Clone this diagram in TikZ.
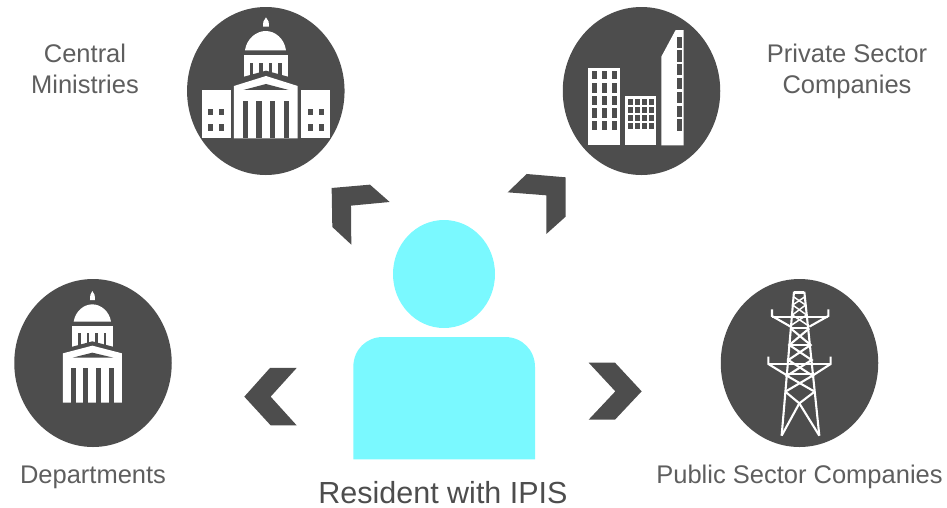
\documentclass[tikz,border=0pt]{standalone}
\usepackage{fontspec}
\setmainfont{Liberation Sans}
\definecolor{dk}{HTML}{4D4D4D}
\definecolor{cy}{HTML}{7AF9FF}
\definecolor{tx}{HTML}{5E5E5E}
\definecolor{txb}{HTML}{4D4D4D}
\tikzset{
 disc/.style={ellipse,fill=dk,draw=none,minimum width=157.5pt,minimum height=168pt,inner sep=0pt},
 chev/.style={fill=dk,draw=none},
 lab/.style={text=tx,font=\fontsize{25.5}{31}\selectfont,align=center,inner sep=0pt,anchor=base},
 ic/.style={fill=white,draw=none},
 ick/.style={fill=dk,draw=none},
 twr/.style={draw=white,line width=2.1pt,line cap=butt,line join=miter},
 twt/.style={draw=white,line width=1.5pt}
}
\usetikzlibrary{shapes.geometric}
\begin{document}
\begin{tikzpicture}[x=1pt,y=-1pt]
\useasboundingbox (0,0) rectangle (947,507);
\node[disc] (cm) at (265.8,91) {};
\node[disc] (ps) at (641.5,91) {};
\node[disc] (dp) at (93,363) {};
\node[disc] (pb) at (799.5,363) {};
% central capitol
\begin{scope}[shift={(180,0)},x=.3333pt,y=-.3333pt]
\fill[ic] (258,52)--(250,65)--(249,80)--(267,80)--(266,65)--cycle;
\fill[ic] (195,151) .. controls (200,115) and (230,93) .. (257,93) .. controls (285,93) and (313,115) .. (318,151)--cycle;
\fill[ic] (191,165) rectangle (325,240);
\foreach \x in {210,238,267,295}\fill[ick] (\x,190) rectangle (\x+10,232);
\fill[ick] (185,232)--(258,212)--(331,232)--(331,262)--(185,262)--cycle;
\fill[ic] (162,258)--(258,228)--(353,258)--(353,415)--(162,415)--cycle;
\fill[ick] (190,270)--(258,252)--(326,270)--cycle;
\foreach \x in {188,229,270,311}\fill[ick] (\x,302) rectangle (\x+16,415);
\fill[ic] (65,270) rectangle (152,415);
\fill[ic] (364,270) rectangle (451,415);
\foreach \x in {83,117,383,417}\foreach \y in {326,372}\fill[ick] (\x,\y) rectangle (\x+16,\y+20);
\end{scope}
% departments capitol
\begin{scope}[shift={(0,270)},x=.3333pt,y=-.3333pt]
\fill[ic] (277,63)--(271,75)--(270,90)--(285,90)--(284,75)--cycle;
\fill[ic] (221,155) .. controls (226,123) and (252,103) .. (277,103) .. controls (302,103) and (328,123) .. (333,155)--cycle;
\fill[ic] (216,168) rectangle (340,238);
\foreach \x in {235,260,286,311}\fill[ick] (\x,190) rectangle (\x+8,230);
\fill[ick] (210,232)--(277,214)--(346,232)--(346,262)--(210,262)--cycle;
\fill[ic] (189,250)--(277,227)--(366,250)--(366,398)--(189,398)--cycle;
\fill[ick] (218,263)--(277,248)--(340,263)--cycle;
\foreach \x in {212,250,289,327}\fill[ick] (\x,294) rectangle (\x+15,398);
\end{scope}
% skyscrapers
\begin{scope}[shift={(500,0)},x=.3333pt,y=-.3333pt]
\fill[ic] (265,203) rectangle (360,436);
\foreach \x in {275,305,335}\foreach \y/\b in {212/238,250/278,288/316,325/353,362/390}\fill[ick] (\x,\y) rectangle (\x+16,\b);
\fill[ic] (375,287) rectangle (469,436);
\foreach \x in {384,405,426,447}\foreach \y/\b in {297/316,321/339,345/363,368/386}\fill[ick] (\x,\y) rectangle (\x+14,\b);
\fill[ic] (484,436)--(484,170)--(527,90)--(551,90)--(551,436)--cycle;
\foreach \y/\b in {110/143,151/185,193/226,234/268,276/309,317/351,358/392}\fill[ick] (530,\y) rectangle (546,\b);
\end{scope}
% tower
\begin{scope}[shift={(580,270)},x=.3333pt,y=-.3333pt]
\fill[ic] (642,63) rectangle (673,72);
\draw[twr] (642,65)--(605,497);
\draw[twr] (673,65)--(718,497);
\draw[twr] (576,118)--(576,138)--(632,170);
\draw[twr] (745,118)--(745,138)--(688,170);
\draw[twr] (576,140)--(745,140);
\draw[twr] (565,260)--(565,282)--(624,318);
\draw[twr] (752,260)--(752,282)--(696,318);
\draw[twr] (565,282)--(752,282);
\draw[twr] (622,313)--(696,313);
\draw[twt] (640,80)--(677,105)--(637,135)--(682,165);
\draw[twt] (675,80)--(638,105)--(680,135)--(635,165);
\draw[twr] (632,175)--(688,175);
\draw[twr] (632,175)--(692,225)--(625,270)--(702,320);
\draw[twr] (688,175)--(628,225)--(695,270)--(617,320);
\draw[twr] (628,225)--(692,225);
\draw[twr] (616,365)--(658,400)--(605,497);
\draw[twr] (704,365)--(658,400)--(718,497);
\draw[twr] (696,318)--(616,365);
\draw[twr] (622,318)--(704,365);
\end{scope}
% chevrons
\begin{scope}[shift={(180,0)},x=.3333pt,y=-.3333pt]
\fill[chev] (455,564)--(570,554)--(629,606)--(513,617)--(514,734)--(457,681)--cycle;
\end{scope}
\begin{scope}[shift={(500,0)},x=.3333pt,y=-.3333pt]
\fill[chev] (80,522)--(197,532)--(197,650)--(139,702)--(139,586)--(23,577)--cycle;
\end{scope}
\begin{scope}[shift={(0,270)},x=.3333pt,y=-.3333pt]
\fill[chev] (810,294)--(890,294)--(812,380)--(890,466)--(812,466)--(733,380)--cycle;
\end{scope}
\begin{scope}[shift={(580,270)},x=.3333pt,y=-.3333pt]
\fill[chev] (26,278)--(105,278)--(185,364)--(105,449)--(26,449)--(106,364)--cycle;
\end{scope}
% person
\node[ellipse,fill=cy,draw=none,minimum width=102pt,minimum height=108pt,inner sep=0pt] (head) at (444,274) {};
\fill[cy] (353.3,459.3)--(353.3,367) .. controls (353.3,350) and (366,337) .. (383,337)--(505,337) .. controls (522,337) and (535,350) .. (535,367)--(535,459.3)--cycle;
% labels
\node[lab] (t1a) at (85,62) {Central};
\node[lab] (t1b) at (85,93) {Ministries};
\node[lab] (t2a) at (847,62) {Private Sector};
\node[lab] (t2b) at (847,93) {Companies};
\node[lab] (t3) at (93,483) {Departments};
\node[lab] (t4) at (799.5,483) {Public Sector Companies};
\node[lab,text=txb,font=\fontsize{30.5}{34}\selectfont] (t5) at (443,503) {Resident with IPIS};
\end{tikzpicture}
\end{document}
